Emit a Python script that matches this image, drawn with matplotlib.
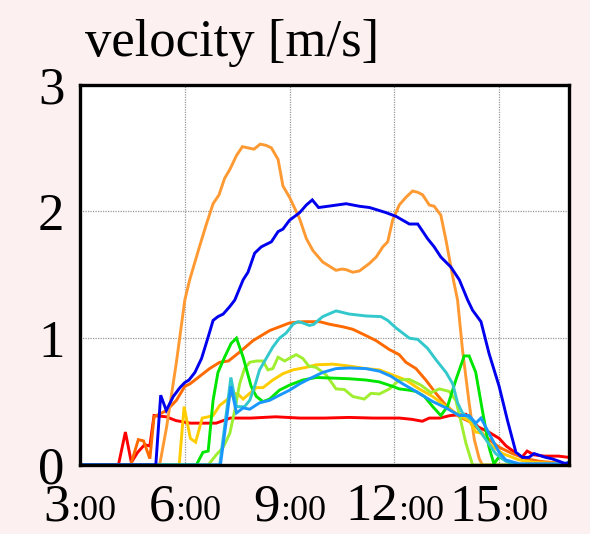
import matplotlib.pyplot as plt
import matplotlib.transforms as mtransforms
import numpy as np

# hourly time stamps (decimal hours) and velocities [m/s] for each station trace
red_t = [3.0, 4.1, 4.3, 4.47, 4.65, 4.85, 5.0, 5.12, 5.47, 5.75, 6.15, 6.9, 7.3, 7.9, 8.6,
         9.3, 10.0, 10.7, 11.4, 12.15, 12.5, 12.8, 13.0, 13.3, 13.6, 14.05, 14.4, 14.7,
         15.0, 15.2, 15.5, 15.65, 15.8, 16.0, 16.3, 16.7, 17.0]
red_v = [0, 0, 0.26, 0.02, 0.10, 0.16, 0.15, 0.39, 0.38, 0.35, 0.33, 0.33, 0.37, 0.37, 0.38,
         0.37, 0.37, 0.375, 0.37, 0.37, 0.36, 0.345, 0.37, 0.37, 0.39, 0.40, 0.30, 0.26,
         0.21, 0.15, 0.09, 0.06, 0.11, 0.08, 0.07, 0.07, 0.06]

dorange_t = [3.0, 4.45, 4.67, 4.82, 5.0, 5.12, 5.48, 5.76, 6.0, 6.15, 6.43, 6.71, 7.0, 7.25,
             7.57, 7.95, 8.43, 9.0, 9.4, 9.86, 10.14, 10.52, 10.81, 11.19, 11.48, 11.86,
             12.14, 12.33, 12.62, 12.9, 13.19, 13.48, 13.86, 14.24, 14.62, 15.0, 15.38,
             15.76, 16.14, 16.9, 17.0]
dorange_v = [0, 0, 0.20, 0.19, 0.05, 0.38, 0.43, 0.51, 0.62, 0.64, 0.70, 0.76, 0.81, 0.82,
             0.89, 0.98, 1.06, 1.12, 1.13, 1.13, 1.11, 1.09, 1.07, 1.02, 0.98, 0.91,
             0.87, 0.81, 0.76, 0.67, 0.565, 0.47, 0.38, 0.33, 0.22, 0.14, 0.09,
             0.05, 0.03, 0.01, 0.01]

lorange_t = [3.0, 5.28, 5.48, 5.76, 6.0, 6.14, 6.43, 6.62, 6.81, 6.98, 7.14, 7.29, 7.48, 7.65,
             7.98, 8.16, 8.33, 8.48, 8.67, 8.81, 9.0, 9.29, 9.48, 9.67, 9.95, 10.33, 10.5,
             10.62, 10.81, 11.0, 11.29, 11.48, 11.67, 11.81, 11.95, 12.14, 12.33, 12.52,
             12.67, 12.81, 13.0, 13.14, 13.33, 13.48, 13.62, 13.69, 13.81, 13.95, 14.14,
             14.29, 14.43, 14.52, 17.0]
lorange_v = [0, 0, 0.30, 0.81, 1.30, 1.46, 1.73, 1.90, 2.06, 2.13, 2.26, 2.33, 2.44, 2.51,
             2.49, 2.53, 2.52, 2.50, 2.41, 2.20, 2.11, 1.94, 1.785, 1.69, 1.60, 1.535, 1.545,
             1.54, 1.52, 1.53, 1.59, 1.64, 1.72, 1.76, 1.93, 2.05, 2.11, 2.16,
             2.15, 2.13, 2.05, 2.04, 1.97, 1.77, 1.56, 1.46, 1.30, 0.91, 0.49,
             0.20, 0.05, 0.0, 0]

gold_t = [3.0, 5.84, 5.98, 6.16, 6.31, 6.5, 6.67, 6.81, 7.0, 7.19, 7.38, 7.52, 7.67, 7.86,
          8.05, 8.24, 8.52, 8.81, 9.1, 9.48, 9.76, 10.24, 10.71, 11.19, 11.57, 11.95,
          12.33, 12.71, 13.1, 13.48, 13.86, 14.14, 14.33, 14.52, 14.71, 15.1, 15.57,
          16.0, 17.0]
gold_v = [0, 0, 0.46, 0.21, 0.18, 0.37, 0.38, 0.39, 0.47, 0.51, 0.565, 0.56, 0.52, 0.565,
          0.61, 0.61, 0.67, 0.72, 0.75, 0.77, 0.79, 0.795, 0.78, 0.76, 0.75, 0.71,
          0.67, 0.60, 0.54, 0.46, 0.39, 0.35, 0.26, 0.25, 0.17, 0.09, 0.04,
          0.02, 0.01]

lgreen_t = [3.0, 6.67, 6.9, 7.1, 7.29, 7.43, 7.57, 7.71, 7.86, 8.05, 8.24, 8.38, 8.52, 8.67,
            8.86, 9.05, 9.19, 9.38, 9.55, 9.76, 10.05, 10.33, 10.57, 10.81, 11.14, 11.33,
            11.57, 11.86, 12.14, 12.43, 12.76, 13.05, 13.29, 13.57, 13.76, 13.9, 14.05,
            14.24, 17.0]
lgreen_v = [0, 0, 0.08, 0.14, 0.25, 0.43, 0.64, 0.76, 0.81, 0.82, 0.82, 0.75, 0.76, 0.85,
            0.82, 0.85, 0.87, 0.84, 0.78, 0.77, 0.71, 0.60, 0.595, 0.54, 0.52, 0.565,
            0.56, 0.60, 0.67, 0.675, 0.63, 0.57, 0.60, 0.58, 0.51, 0.35, 0.17,
            0.0, 0]

green_t = [3.0, 6.33, 6.52, 6.67, 6.81, 6.95, 7.14, 7.33, 7.48, 7.67, 7.9, 8.05, 8.24, 8.43,
           8.71, 9.0, 9.38, 9.76, 10.71, 11.19, 11.57, 11.95, 12.14, 12.43, 12.62, 12.86,
           13.1, 13.33, 13.52, 13.76, 14.0, 14.14, 14.33, 14.52, 14.71, 14.85, 15.0,
           15.3, 15.6, 17.0]
green_v = [0, 0, 0.10, 0.11, 0.51, 0.73, 0.85, 0.96, 1.0, 0.85, 0.62, 0.54, 0.50, 0.52,
           0.59, 0.63, 0.67, 0.69, 0.68, 0.67, 0.655, 0.62, 0.60, 0.59, 0.58, 0.54,
           0.46, 0.39, 0.46, 0.67, 0.86, 0.86, 0.73, 0.43, 0.14, 0.01, 0.065,
           0.02, 0.0, 0]

cyan_t = [3.0, 7.0, 7.32, 7.48, 7.71, 7.86, 8.0, 8.14, 8.33, 8.52, 8.71, 8.9, 9.1, 9.24,
          9.38, 9.57, 9.7, 9.86, 9.95, 10.33, 10.71, 11.19, 11.62, 11.81, 12.05, 12.43,
          12.67, 12.95, 13.19, 13.48, 13.67, 13.81, 13.95, 14.24, 14.62, 14.9, 15.19,
          15.57, 17.0]
cyan_v = [0, 0, 0.69, 0.46, 0.46, 0.51, 0.62, 0.75, 0.84, 0.93, 1.0, 1.04, 1.11, 1.13,
          1.12, 1.10, 1.11, 1.15, 1.17, 1.215, 1.19, 1.175, 1.17, 1.14, 1.08, 1.0,
          0.99, 0.92, 0.83, 0.73, 0.64, 0.49, 0.41, 0.35, 0.20, 0.09, 0.03,
          0.0, 0]

sky_t = [3.0, 7.02, 7.32, 7.48, 7.67, 7.86, 8.14, 8.43, 8.71, 9.0, 9.29, 9.57, 9.95, 10.33,
         10.71, 11.19, 11.57, 11.9, 12.24, 12.62, 13.1, 13.48, 13.86, 14.14, 14.33, 14.48,
         14.71, 15.0, 15.19, 15.57, 16.8, 17.0]
sky_v = [0, 0, 0.62, 0.41, 0.45, 0.44, 0.49, 0.51, 0.55, 0.59, 0.64, 0.68, 0.73, 0.76,
         0.765, 0.76, 0.74, 0.70, 0.64, 0.58, 0.50, 0.45, 0.39, 0.39, 0.33, 0.37,
         0.25, 0.10, 0.04, 0.01, 0.01, 0.02]

blue_t = [3.0, 5.17, 5.31, 5.47, 5.67, 5.86, 6.0, 6.12, 6.29, 6.48, 6.67, 6.81, 6.95, 7.1,
          7.29, 7.43, 7.67, 7.81, 8.0, 8.19, 8.48, 8.67, 8.81, 9.0, 9.29, 9.48, 9.65, 9.83,
          10.1, 10.62, 11.0, 11.29, 11.76, 12.05, 12.43, 12.67, 12.95, 13.14, 13.33,
          13.62, 13.86, 14.1, 14.24, 14.48, 14.71, 15.0, 15.24, 15.48, 15.67, 15.85,
          16.0, 16.33, 16.5, 16.71, 16.9, 17.0]
blue_v = [0, 0, 0.55, 0.43, 0.54, 0.61, 0.65, 0.67, 0.73, 0.84, 1.01, 1.14, 1.17, 1.19,
          1.25, 1.30, 1.46, 1.52, 1.67, 1.72, 1.76, 1.84, 1.86, 1.93, 1.99, 2.05, 2.09, 2.03,
          2.04, 2.06, 2.04, 2.03, 1.99, 1.96, 1.90, 1.90, 1.785, 1.72, 1.64,
          1.56, 1.46, 1.30, 1.22, 1.13, 0.88, 0.62, 0.35, 0.10, 0.06, 0.06,
          0.09, 0.06, 0.05, 0.03, 0.01, 0.02]

series = [
    (red_t, red_v, "#ff0000"),
    (dorange_t, dorange_v, "#ff6a00"),
    (lorange_t, lorange_v, "#ff9a33"),
    (gold_t, gold_v, "#ffcc00"),
    (lgreen_t, lgreen_v, "#a0ee30"),
    (green_t, green_v, "#00e600"),
    (cyan_t, cyan_v, "#33c8cc"),
    (sky_t, sky_v, "#1a96ff"),
    (blue_t, blue_v, "#0000ee"),
]

x_ticks = [3, 6, 9, 12, 15]
y_ticks = [0, 1, 2, 3]
serif = "Liberation Serif"

fig = plt.figure(figsize=(5.9, 5.34), dpi=100, facecolor="#fdf0f0")
ax = fig.add_axes([80 / 590, 69 / 534, 489 / 590, 380.5 / 534])
ax.set_facecolor("white")

for t, v, c in series:
    ax.plot(t, v, color=c, lw=2.1, solid_joinstyle="miter")

ax.set_xlim(3, 17)
ax.set_ylim(0, 3)
ax.set_xticks(x_ticks)
ax.set_yticks(y_ticks)
ax.tick_params(length=0, labelbottom=False, labelleft=False)
ax.grid(True, color="#999999", linestyle=(0, (1, 1)), linewidth=0.9)
for sp in ax.spines.values():
    sp.set_linewidth(2.4)
    sp.set_color("black")

# y labels: big serif digits left of the frame
for y in y_ticks:
    ax.text(-0.059, y, str(y), transform=ax.get_yaxis_transform(), ha="center",
            va="center_baseline", fontsize=38, family=serif, clip_on=False)

# x labels: big hour digits followed by a smaller ":00", centred on each tick
renderer = fig.canvas.get_renderer()
xtrans = ax.get_xaxis_transform()
for h in x_ticks:
    big = ax.text(h, -0.145, str(h), transform=xtrans, ha="right", va="baseline",
                  fontsize=38, family=serif)
    small = ax.text(h, -0.145, ":00", transform=xtrans, ha="left", va="baseline",
                    fontsize=26, family=serif)
    wb = big.get_window_extent(renderer).width
    ws = small.get_window_extent(renderer).width
    shift = mtransforms.ScaledTranslation((wb - ws) / 2 / fig.dpi, 0, fig.dpi_scale_trans)
    big.set_transform(xtrans + shift)
    small.set_transform(xtrans + shift)

fig.text(85 / 590, (534 - 56) / 534, "velocity [m/s]", fontsize=38, family=serif,
         ha="left", va="baseline")

fig.savefig("out.png", dpi=100, facecolor=fig.get_facecolor())
